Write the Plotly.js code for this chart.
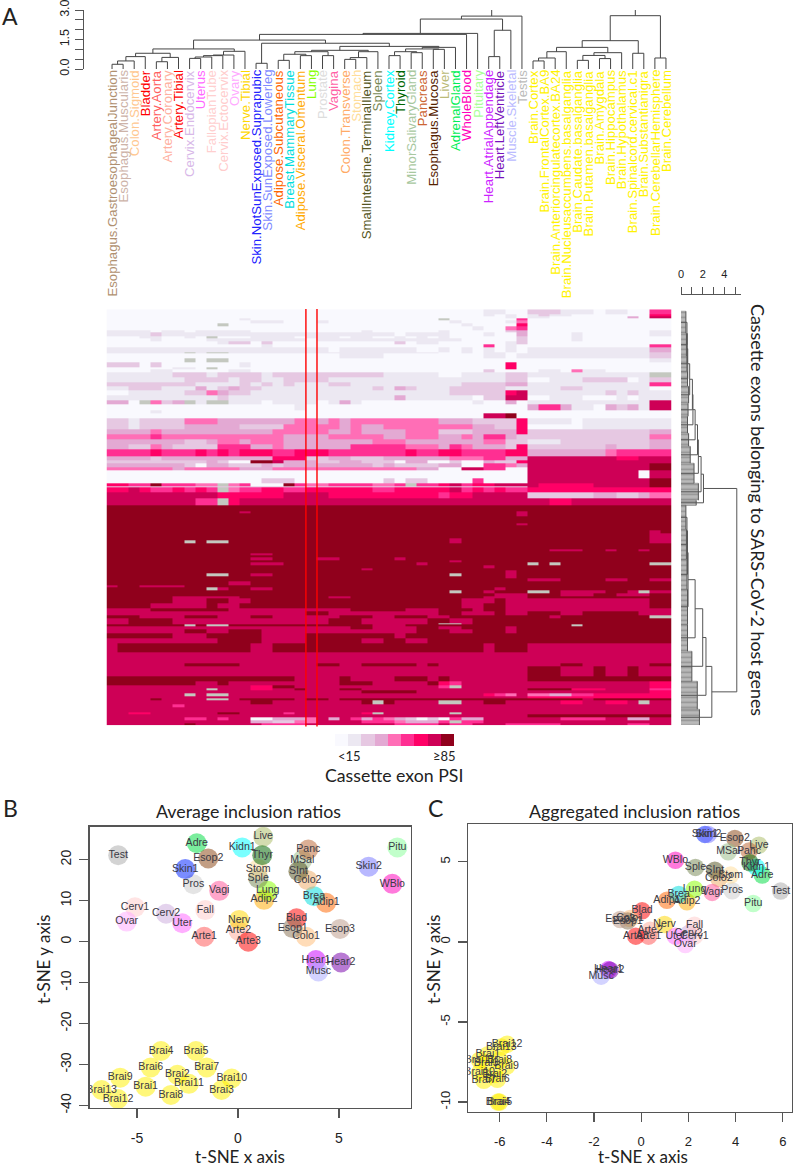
<!DOCTYPE html>
<html><head><meta charset="utf-8">
<script src="https://cdn.plot.ly/plotly-3.0.1.min.js"></script>
<style>html,body{margin:0;padding:0;background:#fff}</style></head>
<body><div id="chart" style="width:793px;height:1167px"></div>
<script>
// ---------- tissues (columns of the heat map, in dendrogram order)
const tissues = ["Esophagus.GastroesophagealJunction","Esophagus.Muscularis","Colon.Sigmoid","Bladder","Artery.Aorta","Artery.Coronary","Artery.Tibial","Cervix.Endocervix","Uterus","FallopianTube","Cervix.Ectocervix","Ovary","Nerve.Tibial","Skin.NotSunExposed.Suprapubic","Skin.SunExposed.Lowerleg","Adipose.Subcutaneous","Breast.MammaryTissue","Adipose.Visceral.Omentum","Lung","Prostate","Vagina","Colon.Transverse","Stomach","SmallIntestine.TerminalIleum","Spleen","Kidney.Cortex","Thyroid","MinorSalivaryGland","Pancreas","Esophagus.Mucosa","Liver","AdrenalGland","WholeBlood","Pituitary","Heart.AtrialAppendage","Heart.LeftVentricle","Muscle.Skeletal","Testis","Brain.Cortex","Brain.FrontalCortex.BA9","Brain.Anteriorcingulatecortex.BA24","Brain.Nucleusaccumbens.basalganglia","Brain.Caudate.basalganglia","Brain.Putamen.basalganglia","Brain.Amygdala","Brain.Hippocampus","Brain.Hypothalamus","Brain.Spinalcord.cervical.c1","Brain.Substantianigra","Brain.CerebellarHemisphere","Brain.Cerebellum"];
const tissueColors = ["#B09070","#CDB3A8","#FFC78F","#FF0000","#FF6060","#FFB0A0","#FF0000","#D8B8E8","#FF66FF","#FFCFCF","#FFCCCC","#FFAAFF","#FFD700","#2222FF","#7F8CFF","#FF6600","#00DDDD","#FFAA00","#88FF00","#DDDDDD","#FF5FA5","#FFAA66","#FFDD99","#555522","#778855","#00FFFF","#006600","#A8C8A0","#CC6633","#552200","#BBBB77","#00EE55","#FF00BB","#AAFF99","#CC22FF","#7711BB","#BBBBFF","#BBBBBB","#FFF200","#FFF200","#FFF200","#FFF200","#FFF200","#FFF200","#FFF200","#FFF200","#FFF200","#FFF200","#FFF200","#FFF200","#FFF200"];

// ---------- heat map: each row = thickness + one PSI level per tissue (9 = no data)
const levelColors = ["#F9F9FE","#ECE8F2","#E6C8E2","#E3A9D3","#FF6EB6","#FF2F92","#FF0066","#CE0056","#90001C","#C4C8C0"];
const legendLevels = [0,1,2,3,4,5,6,7,8];
const rowSpans = [5,2,2,2,3,3,4,2,4,2,3,3,3,5,1,5,4,5,2,3,5,5,4,4,5,5,4,6,3,5,6,5,5,5,5,5,7,4,3,4,3,8,5,3,1,1,4,6,7,
  6,2,3,7,2,5,3,5,2,3,6,2,2,2,2,3,2,3,3,2,3,3,2,3,4,2,3,3,3,2,5,5,3,4,3,5,1,2,3,4,5,5,9,11,3,10,5,4,3,2,3,3,2,2,4,3,5,2,3,3,3,2];
const rowLevels = [
"0000000000 0000000000 0000000000 00001100 2221110110055",
"0000000000 0000000000 0000000000 00001010 1211000000066",
"0000000000 0000000000 0000000000 00000010 1100000003077",
"0000000000 0010000000 0000000000 90000005 0000000000000",
"0000000000 0001110001 0000000000 01000014 0000000000000",
"0000000000 9000000000 0000000000 00100006 0000000000000",
"0000000000 0000000000 0000000000 00010045 0000000000000",
"1111011011 1110000000 0001000000 10000023 0000000000011",
"1111211111 1111111111 1111110111 10001003 0000100000011",
"0001100109 0001111011 1011001010 10000002 0000100000000",
"0000100001 1111111101 1111111111 11000002 0000100000000",
"0000000000 1220200000 0000002011 00000012 0000000000000",
"0000000000 0000100000 0000000000 00005010 0000000000055",
"1111111111 1111111111 0111111100 10101010 1111111111133",
"1111111919 9111111111 1111111111 00101100 1111111111122",
"0000000000 0000000000 0111100000 00001101 1111111111122",
"0000000909 9000000000 0000000000 00000000 0000000000011",
"2220200000 0010000000 0000000000 00000060 0000000000000",
"0000001109 0000000000 0000000000 00000060 0000000000000",
"0000110000 0110000000 0000000000 00002000 0110411000000",
"1111112221 2222122222 2222211111 00111122 1111111111199",
"1111111222 2122112222 1111111111 11111122 0011122220122",
"2222222211 1121212111 2211111111 11222233 1111111111155",
"1122211131 2322111111 1111213211 12222211 1112211111100",
"0011111224 3221111111 1111111111 12222267 1111111212111",
"1111111111 2111111111 1111113111 11102277 0011100010111",
"3309423919 9111011110 1310000000 00010030 1111111111177",
"0000000000 0000000100 0000000000 00000000 3553110323177",
"0000100000 0000000000 0000000000 00000000 0000000000000",
"0000000000 0000000000 0000000000 00007780 0000000000000",
"2212222444 3333333443 4344444444 33322226 1111011111111",
"2212222333 3322224444 4343344444 44433226 0000011111111",
"3333433333 3333344444 3343333444 22233336 2222222222233",
"4444544444 4444443333 4444433444 33435532 2222222222244",
"3333333223 4434443333 3333444333 33334422 1112222222233",
"3322432222 5553343333 3355555444 35433326 2222222322233",
"5555655565 6566655666 5555555655 66555566 3333333455555",
"3333233333 3333366622 3322233333 34445533 7777777766777",
"2222222223 2008873332 2332220330 02003226 7777777777777",
"3333333203 3222323333 3333232222 33005543 7777777777788",
"4444443444 4433344444 4444444433 00775500 7777777777788",
"0000000000 0000000000 0000000000 00000000 7777777777077",
"0000000000 0000222000 0000020220 00050000 7777777777788",
"6655855544 9450008544 5555445955 67566777 7666667777788",
"2222222222 2222222222 2222222222 22222222 7666667777788",
"6676556565 9455665566 6666556666 67565655 6666666666666",
"6676556565 9455665566 6666556666 67565655 6666666666666",
"7777777777 6666667777 6666666666 56677777 2222223322344",
"7777777755 9677777777 7777777777 77777777 7766777777777",
"8888888888 8888888888 8888888888 88888888 8888888888888",
"8888888888 8878888888 8888888888 88888887 8888888888888",
"8888888888 8888888888 8888888888 88888887 8888888888888",
"8888888888 8888888888 8888888888 88888888 8888888888888",
"8888888888 8888888888 8888888888 88888887 8888888888888",
"8888888888 8888888888 8888888888 88888888 8888888888888",
"8888888888 8888888888 8888888888 88888888 8888888888878",
"8888888888 8888888888 8888888888 88888888 8888888888877",
"8888888888 8888888888 8888888888 87888888 8888888888877",
"8888888989 9888888888 8888888888 87888888 8888888888877",
"8888888888 8888888888 8888888888 88888888 8888888888888",
"8888888888 8888888888 8888888888 88888888 8877788788788",
"8888888888 8888888888 8888888888 88888888 8888888888888",
"8888888888 8887788888 8888888888 88888888 8888888888888",
"8888888888 8888888888 8888888888 88888888 8888888888888",
"8888888888 8887788887 7888887888 88888888 8888888888888",
"8888888888 8888888888 8888888888 87888888 8888888888888",
"8888888888 8887778888 8888888878 88888888 9898888888899",
"8888888888 8888888888 8888888888 88887888 8888888888888",
"8888888888 8888888888 8887888888 88888888 8888888888888",
"8888888888 8888888888 8888888888 88888878 8888888888888",
"8888888889 9887788888 8888888888 89888878 8888888888888",
"8888888888 8888888888 8888888888 88888878 8888888888888",
"8888888888 8888888888 8888888888 88888888 7778888778877",
"8888888888 8778888888 8888888888 88888888 8888888888888",
"7887777888 8888888888 8888888888 88888888 8888888888888",
"8888888889 7887788888 8888888888 88888788 8888888888888",
"8888888888 8888888888 8888888888 89887888 9987777887977",
"8888888888 8888888888 8888888888 88888777 8887778877788",
"8888887777 7788888888 7788888888 88887777 8888888888888",
"8888887778 8778888888 8888888888 88777877 7777777777788",
"8888777778 7788888888 8888888888 88778877 7777777777788",
"7777888888 8777777777 7788888777 88878877 7777777777777",
"7777777777 7777777788 7777777777 88777877 8887788888777",
"8887777888 7778877777 7888778887 78888888 8878888888899",
"7788887777 7777777777 8887777778 87788888 8888888888888",
"7788887777 7777777777 8887777778 99788888 8888888888888",
"8888888989 9888888888 8888777888 88888888 8888988888888",
"7777777777 7777777777 7788777788 77888878 8888888888888",
"7777777887 7888777777 7777777788 87788878 8888888888888",
"8888887778 8888777788 8888887888 88888888 8888888888888",
"7777777777 8888777788 8887788778 88888888 8888888888888",
"7888888888 8887788888 8888888888 88887888 7777777777777",
"7777777777 7777777777 7777777777 77777777 7777777777777",
"7777777888 8877777778 8778888878 77777777 7778877777788",
"7777777777 7777777777 7777777777 77777777 8887778778777",
"8888888888 8888888777 7877778887 87777777 8888888888888",
"8888888877 8777777777 7888777778 65777777 7777777777766",
"7777777777 7776688777 7777777777 59777777 7777777777766",
"7777777779 7776677877 7887777777 77777777 8888666777755",
"7777777777 7777777777 7778888877 77777777 7777777777766",
"7777777979 9777777777 7777777777 77776547 4433556666666",
"7777777777 7777777777 7777777777 77777777 6666666666666",
"7777877779 9788888788 7888888888 88888888 8888878888888",
"7777777777 7778877777 7778987777 99778877 7776677667977",
"7777775777 7777777777 7777777777 77777777 7777777777777",
"7777777777 7777777777 7777777777 77777777 7777777777777",
"7766777777 8877775777 7776977777 79777777 7777777777777",
"7777777777 7777777777 7777777777 77777777 8888888888888",
"7777777557 5770033347 3753543202 05337777 7775555773377",
"7777777777 7773322447 7775554333 59557777 7777777777777",
"7777777877 7777555577 7777775555 75577755 5557777775577"];

// ---------- tissue dendrogram: nested [left, right, height], numbers are tissue indices
const clusterA = [[[[[0,1,.24],2,.41],3,.63],[[4,5,.37],6,.59],.80],[[[[[7,8,.54],9,.61],10,.68],11,.71],12,.90],1.02];
const clusterL = [[[[15,16,.44],[17,18,.68],.75],[19,20,.68],.88],[[[21,22,.49],23,.58],24,.88],.95];
const clusterR = [[[[25,26,.68],[27,28,.83],.88],[29,30,1.0],1.02],31,1.10];
const clusterRest = [[13,14,.29],[clusterL,clusterR,1.15],1.31];
const clusterMix = [[[[clusterA,clusterRest,1.47],32,1.76],33,1.81],[[34,35,.63],36,1.97],2.54];
const clusterBrain = [[[[[[38,39,.41],40,.56],41,.88],[[[42,43,.44],[44,45,.53],.69],46,.83],1.10],[47,48,.80],1.44],[49,50,.56],2.71];
const tissueTree = [[clusterMix,37,2.69],clusterBrain,3.19];

// ---------- exon dendrogram: clusters of heat-map rows [first row, last row, depth] and their merges
const rowClusters = [[2,24,.45],[24,47,.5],[47,62,.55],[62,77,.6],[77,94,.7],[94,107,.65],[107,124,.6],[124,137,.7],[137,154,.85],[154,174,1.2],[174,191,1.6],[191,196,1.4],
  [196,220,.45],[220,250,.5],[250,280,.55],[280,315,.6],[315,342,.6],[342,372,1.0],[372,400,1.5],[400,416,1.7]];
const exonUpper = [[[[[[[[[[[0,1,.55],2,.58],3,.62],4,.8],5,1.05],6,1.1],7,1.3],8,1.52],9,1.6],10,1.85],11,2.07];
const exonLower = [[[[[[[12,13,.55],14,.6],15,.65],16,1.3],17,2.0],18,2.3],19,2.84];
const exonTree = [exonUpper,exonLower,5.14];
const exonScaleTicks = [0,1,2,3,4,5];
const exonScaleText = ["0","","2","","4",""];

// ---------- t-SNE
const sampleNames = ["Adip1","Adip2","Adre","Arte1","Arte2","Arte3","Blad","Brai1","Brai2","Brai3","Brai4","Brai5","Brai6","Brai7","Brai8","Brai9","Brai10","Brai11","Brai12","Brai13","Brea","Cerv1","Cerv2","Colo1","Colo2","Esop1","Esop2","Esop3","Fall","Hear1","Hear2","Kidn1","Live","Lung","Musc","MSal","Nerv","Ovar","Panc","Pitu","Pros","SInt","Skin1","Skin2","Sple","Stom","Test","Thyr","Uter","Vagi","WBlo"];
const sampleColors = ["#FF6600","#FFAA00","#00DD44","#FF5555","#FFAA99","#FF0000","#FF0000","#FFF000","#FFF000","#FFF000","#FFF000","#FFF000","#FFF000","#FFF000","#FFF000","#FFF000","#FFF000","#FFF000","#FFF000","#FFF000","#00DDDD","#FFCCCC","#CCAADD","#FFBB77","#EEAA66","#8B7355","#8B4513","#BB9988","#FFCCCC","#CC00FF","#7700AA","#00FFFF","#AABB66","#88FF00","#AAAAFF","#99BB88","#FFD700","#FFAAFF","#BB6633","#88FF99","#CCCCCC","#555522","#0022FF","#7777FF","#778855","#FFDD99","#AAAAAA","#006600","#FF66FF","#FF5599","#FF00BB"];
const avgX = [4.36,1.29,-2.04,-1.67,.02,.51,2.9,-4.57,-3.0,-.81,-3.81,-2.08,-4.32,-1.55,-3.32,-5.83,-.31,-2.43,-5.94,-6.75,3.76,-5.1,-3.56,3.37,3.45,2.71,-1.47,5.05,-1.62,3.86,5.1,.21,1.25,1.47,3.98,3.18,.06,-5.51,3.48,7.89,-2.21,2.99,-2.61,6.47,1.0,1.0,-5.93,1.2,-2.76,-.93,7.64];
const avgY = [9.5,10.2,24,1.2,2.7,0,5.7,-35.4,-32.5,-36.2,-26.7,-26.7,-30.7,-30.7,-37.4,-33.2,-33.4,-34.7,-38.4,-36.2,11.1,8.4,6.8,1.2,15,3.3,20.3,3.1,7.7,-4.5,-5.1,23,25.6,12.4,-7.3,19.9,5.3,4.9,22.5,23,14,17.2,17.7,18.3,15.5,17.7,21.1,21.1,4.5,12.4,14.1];
const aggX = [1.09,1.94,5.13,.31,.38,-.23,.04,-6.5,-6.21,-6.57,-6.07,-6,-6.1,-6.67,-6,-5.71,-6.85,-6.85,-5.69,-5.93,1.59,2.26,2.01,-.47,3.29,-.57,3.97,-.89,2.26,-1.39,-1.32,4.89,4.99,2.26,-1.7,3.69,.99,1.87,4.57,4.75,3.86,3.12,2.7,2.84,2.3,3.79,5.91,4.61,1.45,3.01,1.45];
const aggY = [2.6,2.5,4.17,.36,.73,.36,1.94,-7.04,-8.27,-7.56,-10,-10,-8.58,-8.64,-7.39,-7.77,-8.16,-7.39,-6.39,-6.56,2.96,.36,.52,1.46,3.96,1.31,6.46,1.4,1.04,-1.73,-1.77,4.65,6.04,3.29,-2.14,5.63,1.09,-.16,5.67,2.4,3.19,4.48,6.71,6.71,4.65,4.17,3.17,4.94,.36,3.09,5.1];
const avgXTicks = [-5,0,5];
const avgXTickText = ["-5","0","5"];
const avgYTicks = [-40,-30,-20,-10,0,10,20];
const avgYTickText = ["-40","-30","-20","-10","0","10","20"];
const aggXTicks = [-6,-4,-2,0,2,4,6];
const aggXTickText = ["-6","-4","-2","0","2","4","6"];
const aggYTicks = [-10,-5,0,5];
const aggYTickText = ["-10","-5","0","5"];

// ---------- helpers
const W = 793, H = 1167;
const dx = (a,b) => [a/W, b/W];
const dy = (top,bottom) => [1-bottom/H, 1-top/H];
const SANS = 'Liberation Sans, Arial, sans-serif';
const TITLE = 'Lato, Open Sans, sans-serif';

const nColumns = tissues.length;
const zRows = rowLevels.map(s => {
  const d = s.replace(/ /g,'').split('').map(Number);
  while (d.length < nColumns) d.push(d[d.length-1]);
  return d.slice(0,nColumns);
});
const rowEdges = [0];
rowSpans.slice(0,zRows.length).forEach(s => rowEdges.push(rowEdges[rowEdges.length-1]+s));
const totalRows = rowEdges[rowEdges.length-1];
const columnEdges = tissues.map((_,i)=>i).concat(nColumns);
const stepScale = [];
levelColors.forEach((c,i)=>{ stepScale.push([i/levelColors.length,c]); stepScale.push([(i+1)/levelColors.length,c]); });

function walk(node, leafPos, seg){
  if (typeof node === 'number') return {p:leafPos(node), h:0};
  const a = walk(node[0],leafPos,seg), b = walk(node[1],leafPos,seg), h = node[2];
  seg(a.p,a.h,a.p,h); seg(a.p,h,b.p,h); seg(b.p,h,b.p,b.h);
  return {p:(a.p+b.p)/2, h};
}
// tissue dendrogram
const tdX = [], tdY = [];
walk(tissueTree, i=>i+.5, (x0,y0,x1,y1)=>{tdX.push(x0,x1,null);tdY.push(y0,y1,null);});
// exon dendrogram
const edX = [], edY = [], elX = [], elY = [];
rowClusters.forEach(c=>{
  for (let r=c[0]; r<=c[1]; r+=1.25){ elX.push(0,c[2],null); elY.push(r,r,null); }
  edX.push(c[2],c[2],null); edY.push(c[0],c[1],null);
});
walk(exonTree, i=>(rowClusters[i][0]+rowClusters[i][1])/2, (p0,h0,p1,h1)=>{
  edX.push(h0,h1,null); edY.push(p0,p1,null);
});

const baseTrace = (x,y,xa,ya,size) => ({
  type:'scatter', mode:'markers+text', x, y, xaxis:xa, yaxis:ya, text:sampleNames, textposition:'middle center',
  textfont:{family:SANS,size:10.6,color:'#3A3A44'}, hoverinfo:'text', cliponaxis:true,
  marker:{size,color:sampleColors,opacity:.52,line:{width:0}}
});

const data = [
  {type:'heatmap', x:columnEdges, y:rowEdges, z:zRows, xaxis:'x', yaxis:'y', colorscale:stepScale, zmin:-.5, zmax:9.5, showscale:false, zsmooth:false, hoverinfo:'skip'},
  {type:'heatmap', z:[legendLevels], xaxis:'x2', yaxis:'y2', colorscale:stepScale, zmin:-.5, zmax:9.5, showscale:false, hoverinfo:'skip'},
  {type:'scatter', mode:'lines', x:tdX, y:tdY, xaxis:'x', yaxis:'y3', line:{color:'#444',width:1}, cliponaxis:false, hoverinfo:'skip'},
  {type:'scatter', mode:'lines', x:elX, y:elY, xaxis:'x3', yaxis:'y', line:{color:'#666',width:.7}, hoverinfo:'skip'},
  {type:'scatter', mode:'lines', x:edX, y:edY, xaxis:'x3', yaxis:'y', line:{color:'#555',width:1}, hoverinfo:'skip'},
  baseTrace(avgX,avgY,'x4','y4',20),
  baseTrace(aggX,aggY,'x5','y5',17.5)
];

const hidden = {visible:false, fixedrange:true};
const ann = (text,x,y,size,extra) => Object.assign({text, x:x/W, y:1-y/H, xref:'paper', yref:'paper', showarrow:false,
  xanchor:'center', yanchor:'middle', font:{family:TITLE,size,color:'#222'}, borderpad:0}, extra||{});

const annotations = tissues.map((t,i)=>({text:t, x:i+.5, y:1-69/H, xref:'x', yref:'paper', showarrow:false, textangle:-90,
  xanchor:'center', yanchor:'top', borderpad:0, font:{family:SANS,size:13.2,color:tissueColors[i]}}));
annotations.push(
  ann('A',10,16,23), ann('B',10,808,23), ann('C',436,808,23),
  ann('Cassette exons belonging to SARS-CoV-2 host genes',758,510,17.9,{textangle:90}),
  ann('&lt;15',349,756,13), ann('≥85',445,756,13),
  ann('Cassette exon PSI',394,775,17.7),
  ann('Average inclusion ratios',248,811,17.8), ann('Aggregated inclusion ratios',634,811,17.8),
  ann('t-SNE x axis',240,1156.5,17), ann('t-SNE y axis',43,960,17,{textangle:-90}),
  ann('t-SNE x axis',643,1156.5,17), ann('t-SNE y axis',433,960,17,{textangle:-90})
);

const frame = {showline:true, mirror:true, linecolor:'#555', linewidth:1.3, ticks:'outside', tickcolor:'#555', tickwidth:1.3, ticklen:9,
  showgrid:false, zeroline:false, fixedrange:true, ticklabeloverflow:'allow'};

const layout = {
  width:W, height:H, margin:{l:0,r:0,t:0,b:0}, paper_bgcolor:'#fff', plot_bgcolor:'rgba(0,0,0,0)', showlegend:false,
  font:{family:SANS,color:'#222'},
  xaxis:Object.assign({domain:dx(106.5,671.5), range:[0,nColumns]},hidden),
  yaxis:Object.assign({domain:dy(309.3,725.3), range:[totalRows,0]},hidden),
  xaxis2:Object.assign({domain:dx(335,454), range:[-.5,8.5], anchor:'y2'},hidden),
  yaxis2:Object.assign({domain:dy(734,746), range:[-.5,.5], anchor:'x2'},hidden),
  yaxis3:{domain:dy(10,69), range:[0,3], anchor:'free', position:83/W, side:'left', showline:true, linecolor:'#555', linewidth:1,
    ticks:'outside', ticklen:8, tickcolor:'#555', tickvals:[0,.5,1,1.5,2,2.5,3], ticktext:['0.0','','','1.5','','','3.0'],
    tickangle:-90, tickfont:{family:SANS,size:12.5,color:'#222'}, ticklabelstandoff:1, ticklabeloverflow:'allow', showgrid:false, zeroline:false, fixedrange:true},
  xaxis3:{domain:dx(681,740.7), range:[0,5.5], anchor:'free', position:1-293.5/H, side:'top', showline:true, linecolor:'#555', linewidth:1,
    ticks:'outside', ticklen:6.5, tickcolor:'#555', tickvals:exonScaleTicks, ticktext:exonScaleText,
    tickfont:{family:SANS,size:11,color:'#222'}, ticklabelstandoff:5, ticklabeloverflow:'allow', showgrid:false, zeroline:false, fixedrange:true},
  xaxis4:Object.assign({},frame,{domain:dx(89.5,410.5), range:[-7.35,8.54], anchor:'y4', tickvals:avgXTicks, ticktext:avgXTickText, tickfont:{family:SANS,size:14,color:'#222'}, ticklabelstandoff:8}),
  yaxis4:Object.assign({},frame,{domain:dy(826.5,1108), range:[-40.6,28.1], anchor:'x4', tickvals:avgYTicks, ticktext:avgYTickText, tickangle:-90, tickfont:{family:SANS,size:14,color:'#222'}, ticklabelstandoff:3}),
  xaxis5:Object.assign({},frame,{domain:dx(468.3,791.7), range:[-7.33,6.38], anchor:'y5', tickvals:aggXTicks, ticktext:aggXTickText, tickfont:{family:SANS,size:13,color:'#222'}, ticklabelstandoff:8}),
  yaxis5:Object.assign({},frame,{domain:dy(824,1111.7), range:[-10.6,7.36], anchor:'x5', tickvals:aggYTicks, ticktext:aggYTickText, tickangle:-90, tickfont:{family:SANS,size:13,color:'#222'}, ticklabelstandoff:3}),
  annotations,
  shapes:[18,19].map(c=>({type:'line', xref:'x', yref:'paper', x0:c, x1:c, y0:1-726.5/H, y1:1-309/H, line:{color:'#FF0000',width:1.4}}))
};
Plotly.newPlot('chart', data, layout, {displayModeBar:false, staticPlot:true});
</script></body></html>
